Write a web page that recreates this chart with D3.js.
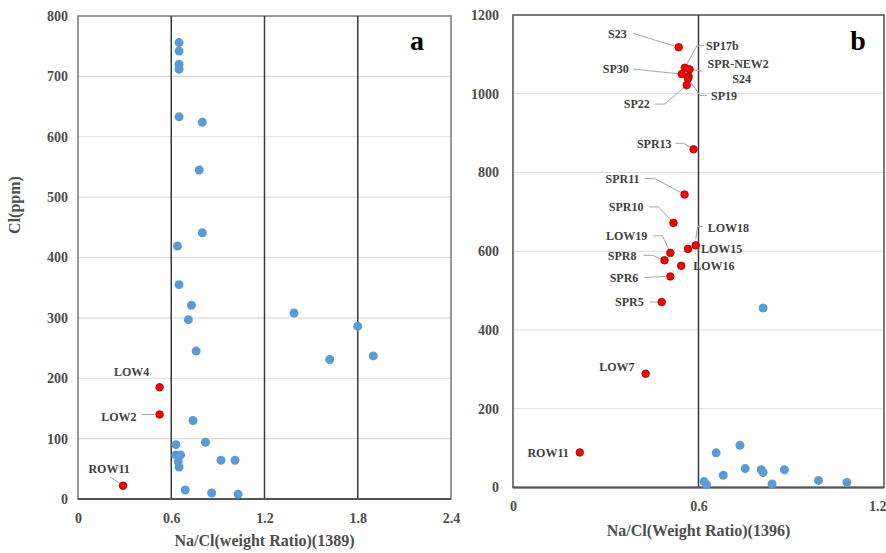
<!DOCTYPE html>
<html>
<head>
<meta charset="utf-8">
<script src="https://cdn.jsdelivr.net/npm/d3@7"></script>
<style>
  body { margin: 0; background: #fff; }
  svg text { font-family: "Liberation Serif", "Times New Roman", serif; font-weight: bold; }
</style>
</head>
<body>
<svg id="chart" width="886" height="553"></svg>
<script>
// ---- panel a data (1389) ----
const ticksAX = [0, 0.6, 1.2, 1.8, 2.4];
const ticksAY = [0, 100, 200, 300, 400, 500, 600, 700, 800];
const blueA = [
  [0.65, 756], [0.65, 742], [0.65, 720], [0.65, 712], [0.65, 633],
  [0.80, 624], [0.78, 545], [0.80, 441], [0.64, 419], [0.65, 355],
  [0.73, 321], [0.71, 297], [0.76, 245], [1.39, 308], [1.80, 286],
  [1.62, 231], [1.90, 237], [0.74, 130], [0.63, 90], [0.82, 94],
  [0.63, 73], [0.66, 73], [0.645, 62], [0.65, 53], [0.92, 64],
  [1.01, 64], [0.69, 15], [0.86, 10], [1.03, 8]
];
const redNamesA = ["LOW4", "LOW2", "ROW11"];
const redXA = [0.525, 0.525, 0.29];
const redYA = [185, 140, 22];

// ---- panel b data (1396) ----
const ticksBX = [0, 0.6, 1.2];
const ticksBY = [0, 200, 400, 600, 800, 1000, 1200];
const blueB = [
  [0.809, 456], [0.657, 88], [0.734, 107], [0.680, 31], [0.751, 48],
  [0.803, 45], [0.809, 38], [0.878, 45], [0.838, 9], [0.988, 18],
  [1.08, 13], [0.618, 15], [0.626, 7]
];
const redNamesB = ["S23", "SP17b", "SPR-NEW2", "SP30", "S24", "SP19", "SP22",
  "SPR13", "SPR11", "SPR10", "LOW18", "LOW15", "LOW19", "SPR8", "LOW16",
  "SPR6", "SPR5", "LOW7", "ROW11"];
const redXB = [0.536, 0.556, 0.571, 0.546, 0.568, 0.566, 0.562,
  0.584, 0.555, 0.519, 0.591, 0.566, 0.509, 0.490, 0.544,
  0.509, 0.481, 0.429, 0.216];
const redYB = [1118, 1066, 1062, 1050, 1044, 1039, 1022,
  859, 744, 672, 615, 606, 596, 577, 563,
  536, 471, 289, 89];

// label placement (pixels from the point): dx, dy, anchor, leader polyline
const placeA = {
  "LOW4": { dx: -28, dy: -16, a: "middle" },
  "LOW2": { dx: -23, dy: 2, a: "end", l: [[-18, 0], [-5, 0]] },
  "ROW11": { dx: -14, dy: -17, a: "middle", l: [[-13, -9], [-3, -2]] }
};
const placeB = {
  "S23": { dx: -52, dy: -13, a: "end", l: [[-46, -14], [0, 0]] },
  "SP17b": { dx: 21, dy: -22, a: "start", l: [[19, -22], [12, -22], [0, 0]] },
  "SPR-NEW2": { dx: 18, dy: -6, a: "start", l: [[13, 2], [0, 0]] },
  "SP30": { dx: -53, dy: -5, a: "end", l: [[-49, -5], [0, 0]] },
  "S24": { dx: 53, dy: 2, a: "middle" },
  "SP19": { dx: 23, dy: 17, a: "start", l: [[19, 17], [12, 17], [0, 0]] },
  "SP22": { dx: -37, dy: 19, a: "end", l: [[-32, 19], [-22, 19], [0, 0]] },
  "SPR13": { dx: -22, dy: -5, a: "end", l: [[-18, -6], [-10, -6], [0, 0]] },
  "SPR11": { dx: -45, dy: -16, a: "end", l: [[-40, -16], [-30, -16], [0, 0]] },
  "SPR10": { dx: -30, dy: -16, a: "end", l: [[-24, -16], [-15, -16], [0, 0]] },
  "LOW18": { dx: 12, dy: -18, a: "start", l: [[7, -19], [2, -19], [0, -6]] },
  "LOW15": { dx: 13, dy: 0, a: "start" },
  "LOW19": { dx: -23, dy: -17, a: "end", l: [[-17, -17], [-8, -17], [0, 0]] },
  "SPR8": { dx: -28, dy: -5, a: "end", l: [[-21, -5], [-12, -5], [0, 0]] },
  "LOW16": { dx: 12, dy: 0, a: "start" },
  "SPR6": { dx: -32, dy: 1, a: "end", l: [[-26, 1], [-5, 0]] },
  "SPR5": { dx: -18, dy: 0, a: "end", l: [[-12, 0], [0, 0]] },
  "LOW7": { dx: -11, dy: -7, a: "end" },
  "ROW11": { dx: -11, dy: 0, a: "end" }
};

const svg = d3.select("#chart");
const textCol = "#4d4d4d";

function panel(cfg) {
  const { x, y, xt, yt, vlines, grid, border, blue, red, place, xTitle, tag, tagX, padX, padY, titleDy } = cfg;
  const g = svg.append("g");
  const [x0, x1] = x.range();
  const [y0, y1] = y.range();

  // horizontal grid
  g.selectAll(".grid").data(grid).enter().append("line")
    .attr("x1", x0).attr("x2", x1)
    .attr("y1", (d) => y(d)).attr("y2", (d) => y(d))
    .attr("stroke", "#dcdcdc").attr("stroke-width", 1.2);

  // frame
  g.append("rect")
    .attr("x", x0).attr("y", y1).attr("width", x1 - x0).attr("height", y0 - y1)
    .attr("fill", "none").attr("stroke", border).attr("stroke-width", 1.6);

  // vertical reference lines
  g.selectAll(".vl").data(vlines).enter().append("line")
    .attr("x1", (d) => x(d)).attr("x2", (d) => x(d))
    .attr("y1", y1).attr("y2", y0)
    .attr("stroke", "#3a3a3a").attr("stroke-width", 1.5);

  // bottom axis line
  g.append("line").attr("x1", x0).attr("x2", x1).attr("y1", y0).attr("y2", y0)
    .attr("stroke", "#555").attr("stroke-width", 2);

  // axes (labels only)
  const ax = g.append("g").attr("transform", `translate(0,${y0})`)
    .call(d3.axisBottom(x).tickValues(xt).tickSize(0).tickPadding(padX)
      .tickFormat((d) => (d === 0 ? "0" : d3.format(".1f")(d))));
  const ay = g.append("g").attr("transform", `translate(${x0},0)`)
    .call(d3.axisLeft(y).tickValues(yt).tickSize(0).tickPadding(padY)
      .tickFormat(d3.format("d")));
  [ax, ay].forEach((a) => {
    a.select(".domain").remove();
    a.selectAll("text").attr("fill", textCol).style("font-size", "14px")
      .style("font-family", "Liberation Serif").style("font-weight", "bold");
  });
  // keep the last x label inside the window
  ax.selectAll(".tick").filter((d) => x(d) > 870).select("text")
    .attr("text-anchor", "end").attr("x", 886 - x1);

  // x title
  g.append("text").attr("x", (x0 + x1) / 2).attr("y", y0 + titleDy)
    .attr("text-anchor", "middle").attr("fill", textCol)
    .style("font-size", "16px").text(xTitle);

  // panel tag
  g.append("text").attr("x", tagX).attr("y", 50).attr("text-anchor", "middle")
    .attr("fill", "#000").style("font-size", "28px").text(tag);

  // leaders + labels
  const redPts = red.names.map((n, i) => ({ n, x: red.xs[i], y: red.ys[i] }));
  const line = d3.line();
  redPts.forEach((p) => {
    const pl = place[p.n];
    const px = x(p.x), py = y(p.y);
    if (pl.l) {
      g.append("path").attr("d", line(pl.l.map(([a, b]) => [px + a, py + b])))
        .attr("fill", "none").attr("stroke", "#a6a6a6").attr("stroke-width", 1);
    }
    g.append("text").attr("x", px + pl.dx).attr("y", py + pl.dy)
      .attr("dy", "0.35em").attr("text-anchor", pl.a)
      .attr("fill", "#404040").style("font-size", "12px").text(p.n);
  });

  // points
  g.selectAll(".blue").data(blue).enter().append("circle")
    .attr("cx", (d) => x(d[0])).attr("cy", (d) => y(d[1])).attr("r", 4.5)
    .attr("fill", "#5b9bd5");
  g.selectAll(".red").data(redPts).enter().append("circle")
    .attr("cx", (d) => x(d.x)).attr("cy", (d) => y(d.y)).attr("r", 3.8)
    .attr("fill", "#ff0000").attr("stroke", "#8b0000").attr("stroke-width", 0.8);
}

panel({
  x: d3.scaleLinear().domain([0, 2.4]).range([78, 451]),
  y: d3.scaleLinear().domain([0, 800]).range([499, 16]),
  xt: ticksAX, yt: ticksAY, vlines: [0.6, 1.2, 1.8], grid: [100, 200, 300, 400, 500, 600, 700],
  border: "#808080", blue: blueA,
  red: { names: redNamesA, xs: redXA, ys: redYA }, place: placeA,
  xTitle: "Na/Cl(weight Ratio)(1389)", tag: "a", tagX: 417, padX: 14, padY: 10, titleDy: 47
});

panel({
  x: d3.scaleLinear().domain([0, 1.2]).range([513, 884]),
  y: d3.scaleLinear().domain([0, 1200]).range([487.5, 15]),
  xt: ticksBX, yt: ticksBY, vlines: [0.6], grid: [200, 400, 600, 800, 1000],
  border: "#5a5a5a", blue: blueB,
  red: { names: redNamesB, xs: redXB, ys: redYB }, place: placeB,
  xTitle: "Na/Cl(Weight Ratio)(1396)", tag: "b", tagX: 858, padX: 14, padY: 14, titleDy: 48
});

// y title for panel a
svg.append("text").attr("transform", "translate(20,205) rotate(-90)")
  .attr("text-anchor", "middle").attr("fill", textCol)
  .style("font-size", "16px").text("Cl(ppm)");
</script>
</body>
</html>
